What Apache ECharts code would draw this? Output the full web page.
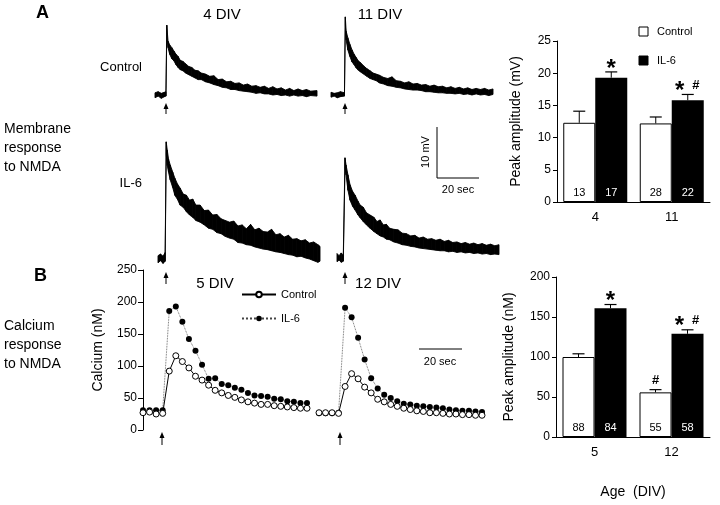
<!DOCTYPE html>
<html>
<head>
<meta charset="utf-8">
<script src="https://cdn.jsdelivr.net/npm/echarts@6/dist/echarts.min.js"></script>
<style>
  html, body { margin: 0; padding: 0; background: #fff; }
  #main { width: 720px; height: 505px; }
</style>
</head>
<body>
<div id="main"></div>
<script>
// ---- membrane traces (time in sec, lower / upper edge of the noisy trace in mV) ----
const ctl4T  = [0,1.5,3,4.5,5.2,5.6,6.2,7,8,9,10,11,12,13.3,14.5,16,17.5,19,20.5,22,24,26,28,30,32,34,36,38,40,42,44,46,48,50,52,54,56,58,60,62,64,66,68,70,72,74,77]
const ctl4Lo = [-0.5,-0.2,-0.6,-0.3,-0.2,11.3,8.6,7.4,6.6,6.2,5.5,5.0,4.6,4.4,4.0,3.7,3.4,3.1,2.8,2.8,2.4,2.2,1.9,1.7,1.4,1.3,1.0,1.0,0.8,0.7,0.6,0.5,0.3,0.4,0.2,0.2,0.0,0.1,-0.1,0.0,-0.2,0.0,-0.2,-0.1,-0.3,-0.1,-0.2]
const ctl4Hi = [0.4,0.6,0.3,0.5,0.6,12.7,9.8,9.1,8.6,8.0,7.4,7.0,6.3,6.1,5.7,5.2,5.0,4.5,4.4,4.0,3.8,3.4,3.5,2.8,2.9,2.4,2.5,2.1,2.2,1.8,2.0,1.6,1.7,1.4,1.6,1.2,1.5,1.1,1.3,0.9,1.2,0.8,1.1,0.8,1.0,0.7,0.8]

const ctl11T  = [0,1.5,3,4.5,6.4,6.8,7.2,8,9,10,11,12,13,14,15.5,17,18.6,20,21.5,23,25,27,29,31,33,35,37,39,41,43,45,47,49,51,53,55,57,59,61,63,65,67,69,71,73,75,77]
const ctl11Lo = [-0.4,-0.2,-0.5,-0.3,-0.2,13.0,10.0,8.2,7.0,6.0,5.5,4.9,4.5,4.2,3.8,3.4,3.0,2.8,2.6,2.2,2.0,1.7,1.6,1.4,1.3,1.1,1.0,0.9,0.9,0.8,0.6,0.6,0.5,0.4,0.4,0.3,0.3,0.2,0.3,0.1,0.2,0.0,0.2,0.0,0.1,-0.1,0.1]
const ctl11Hi = [0.5,0.3,0.4,0.6,0.4,14.2,11.6,10.4,9.2,8.2,7.4,6.8,6.2,5.9,5.3,4.8,4.4,4.0,3.8,3.6,3.2,3.0,3.3,2.6,2.5,2.2,2.4,2.0,2.1,1.8,1.9,1.6,1.8,1.5,1.6,1.3,1.5,1.2,1.4,1.1,1.3,1.0,1.2,1.0,1.2,0.9,1.1]

const il4T  = [0,1.2,2.4,3.4,3.9,4.4,5,5.8,7,8,9.3,10.5,12,13.5,15,16.5,18,20,22,24,26,28,30,32,34,36,38,40,42,44,46,48,50,52,54,56,58,60,62,64,66,68,70,72,74,76,77]
const il4Lo = [-0.7,-0.3,-0.8,-0.4,19.0,17.0,15.8,14.4,13.0,11.6,10.8,9.8,9.4,8.6,8.0,7.6,7.0,6.7,6.2,5.6,5.4,4.8,4.6,4.1,3.8,3.6,3.0,2.9,2.6,2.5,2.2,2.0,1.8,1.7,1.5,1.3,1.2,1.0,0.8,0.7,0.4,0.5,0.2,0.0,-0.3,-0.6,-0.4]
const il4Hi = [0.6,0.9,0.5,1.2,21.3,19.8,18.2,17.1,15.8,14.7,13.6,12.9,11.8,11.6,10.7,10.9,9.8,9.8,8.8,8.9,8.0,8.1,7.3,7.0,6.7,6.9,6.0,6.2,5.5,6.3,5.3,5.6,5.0,4.9,5.4,4.4,4.6,4.0,4.3,3.6,3.7,3.3,3.5,2.9,3.1,2.6,2.3]

const il11T  = [0,1,2,3,3.8,4.3,5.2,6.2,7.4,8.6,10,11,12.5,14,15.7,17.5,19,20.5,22,23.5,25,27,29,31,33,35,37,39,41,43,45,47,49,51,53,55,57,59,61,63,65,67,69,71,73,75,77]
const il11Lo = [-0.5,-0.2,-0.6,-0.4,16.5,15.3,12.5,10.7,9.6,8.9,8.0,7.5,6.8,6.2,5.6,5.0,4.6,4.2,4.0,3.6,3.5,3.1,2.9,2.6,2.5,2.3,2.2,2.0,1.9,1.8,1.7,1.6,1.5,1.5,1.3,1.4,1.2,1.3,1.1,1.2,1.0,1.1,0.9,1.0,0.8,0.9,0.8]
const il11Hi = [1.0,0.6,1.1,0.7,18.4,17.1,15.3,13.5,12.3,11.6,10.5,9.8,9.4,8.4,8.0,7.6,6.8,7.1,6.2,6.3,5.6,5.4,5.3,4.7,4.6,4.2,4.3,3.8,4.0,3.6,3.7,3.4,3.6,3.2,3.4,3.0,3.1,2.8,3.0,2.7,2.9,2.6,2.8,2.5,2.7,2.4,2.6]

// ---- calcium time courses (nM, one sample per ~3 sec) ----
const ca5Ctl  = [27,28,25,26,92,116,107,97,84,78,70,62,58,54,51,47,44,42,40,40,38,37,36,35,34,34]
const ca5Il6  = [31,31,31,31,186,193,169,142,124,102,80,81,72,70,66,63,58,54,53,52,49,48,45,44,42,42]
const ca12Ctl = [27,27,27,26,68,88,80,67,58,48,44,40,37,34,32,30,29,27,27,26,25,25,24,24,23,23]
const ca12Il6 = [26,26,26,27,191,176,144,110,81,65,55,50,45,41,40,38,37,36,35,34,32,31,30,30,29,28]

// ---- peak amplitude bars ----
const mvCats = ['4', '11']
const mvCtl = [12.3, 12.2]
const mvCtlErr = [1.8, 1.0]
const mvIl6 = [19.3, 15.8]
const mvIl6Err = [0.9, 0.9]
const mvCtlN = [13, 28]
const mvIl6N = [17, 22]
const mvCtlSig = ['', '']
const mvIl6Sig = ['*', '* #']

const nmCats = ['5', '12']
const nmCtl = [100, 55.8]
const nmCtlErr = [4, 3.4]
const nmIl6 = [161, 129]
const nmIl6Err = [4.6, 5]
const nmCtlN = [88, 55]
const nmIl6N = [84, 58]
const nmCtlSig = ['', '#']
const nmIl6Sig = ['*', '* #']

const FONT = '"Liberation Sans", Arial, sans-serif'
const chart = echarts.init(document.getElementById('main'))

// trace drawn as a black band between its lower and upper edge, one quad per step
function traceSeries(gi, t, lo, hi) {
    return {
        type: 'custom', xAxisIndex: gi, yAxisIndex: gi, silent: true,
        data: t.map((v, i) => [v, lo[i], hi[i]]),
        renderItem: (params, api) => {
            const i = params.dataIndex
            if (i >= t.length - 1) return null
            const a = api.coord([t[i], hi[i]])
            const b = api.coord([t[i + 1], hi[i + 1]])
            const c = api.coord([t[i + 1], lo[i + 1]])
            const d = api.coord([t[i], lo[i]])
            return {
                type: 'polygon',
                shape: { points: [a, b, c, d] },
                style: { fill: '#000', stroke: '#000', lineWidth: 0.9 }
            }
        }
    }
}

function caSeries(gi, name, vals) {
    const il6 = name === 'IL-6'
    return {
        type: 'line', name: name, xAxisIndex: gi, yAxisIndex: gi,
        data: vals.map((v, i) => [i, v]),
        symbol: 'circle', symbolSize: 6,
        itemStyle: il6 ? { color: '#000' } : { color: '#fff', borderColor: '#000', borderWidth: 1 },
        lineStyle: il6 ? { color: '#444', width: 0.8, type: 'dotted' } : { color: '#000', width: 1 },
        z: il6 ? 3 : 4
    }
}

function barSeries(gi, name, vals, ns) {
    const il6 = name === 'IL-6'
    return {
        type: 'bar', name: name + ' ', xAxisIndex: gi, yAxisIndex: gi,
        data: vals, barWidth: 32, barGap: 0,
        itemStyle: il6 ? { color: '#000' } : { color: '#fff', borderColor: '#000', borderWidth: 1 },
        label: {
            show: true, position: 'insideBottom', distance: 4,
            fontFamily: FONT, fontSize: 11, color: il6 ? '#fff' : '#000',
            formatter: p => ns[p.dataIndex]
        }
    }
}

// error bar (upward only) + significance marks
function errSeries(gi, vals, errs, marks, off) {
    return {
        type: 'custom', xAxisIndex: gi, yAxisIndex: gi, silent: true, z: 5,
        data: vals.map((v, i) => [i, v, errs[i]]),
        renderItem: (params, api) => {
            const i = api.value(0)
            const p0 = api.coord([i, api.value(1)])
            const p1 = api.coord([i, api.value(1) + api.value(2)])
            const x = p0[0] + off
            const kids = [
                { type: 'line', shape: { x1: x, y1: p0[1], x2: x, y2: p1[1] }, style: { stroke: '#000', lineWidth: 1 } },
                { type: 'line', shape: { x1: x - 6, y1: p1[1], x2: x + 6, y2: p1[1] }, style: { stroke: '#000', lineWidth: 1.2 } }
            ]
            const m = marks[params.dataIndex]
            const star = m.indexOf('*') >= 0, hash = m.indexOf('#') >= 0
            const sx = star && hash ? x - 8 : x
            const hx = star && hash ? x + 8 : x
            if (star) kids.push({ type: 'text', x: sx, y: p1[1] - 3,
                style: { text: '*', font: 'bold 24px ' + FONT, fill: '#000', align: 'center', verticalAlign: 'middle' } })
            if (hash) kids.push({ type: 'text', x: hx, y: p1[1] - 9,
                style: { text: '#', font: 'bold 13px ' + FONT, fill: '#000', align: 'center', verticalAlign: 'middle' } })
            return { type: 'group', children: kids }
        }
    }
}

function arrow(x, y1, y2) {
    return {
        type: 'group', silent: true, children: [
            { type: 'line', shape: { x1: x, y1: y1 + 3, x2: x, y2: y2 }, style: { stroke: '#000', lineWidth: 1 } },
            { type: 'polygon', shape: { points: [[x, y1], [x - 2.5, y1 + 6], [x + 2.5, y1 + 6]] }, style: { fill: '#000' } }
        ]
    }
}

function txt(x, y, s, size, opts) {
    return Object.assign({ type: 'text', x: x, y: y, silent: true,
        style: Object.assign({ text: s, font: size + 'px ' + FONT, fill: '#000', align: 'left', verticalAlign: 'middle' }, opts || {}) })
}

const hidden = { show: false }
const traceX = { type: 'value', min: 0, max: 77, show: false }
const ctlY = { type: 'value', min: -2, max: 15, show: false }
const il6Y = { type: 'value', min: -3, max: 22, show: false }
const caX = { type: 'value', min: 0, max: 25, show: false }

const tickLabel = { fontFamily: FONT, fontSize: 12, color: '#000', margin: 6 }
const axisLn = { show: true, lineStyle: { color: '#000', width: 1 } }

const option = {
    animation: false,
    backgroundColor: '#fff',
    grid: [
        { left: 155, top: 12.5, width: 162, height: 93.5 },   // 0 control 4 DIV
        { left: 331, top: 12.5, width: 162, height: 93.5 },   // 1 control 11 DIV
        { left: 158, top: 138, width: 162, height: 137.5 },   // 2 IL-6 4 DIV
        { left: 337, top: 138, width: 162, height: 137.5 },   // 3 IL-6 11 DIV
        { left: 143, top: 270, width: 164, height: 160 },     // 4 calcium 5 DIV
        { left: 319, top: 270, width: 163, height: 160 },     // 5 calcium 12 DIV
        { left: 557, top: 41, width: 153, height: 161 },      // 6 mV bars
        { left: 556, top: 277, width: 154, height: 160 }      // 7 nM bars
    ],
    xAxis: [
        Object.assign({ gridIndex: 0 }, traceX),
        Object.assign({ gridIndex: 1 }, traceX),
        Object.assign({ gridIndex: 2 }, traceX),
        Object.assign({ gridIndex: 3 }, traceX),
        Object.assign({ gridIndex: 4 }, caX),
        Object.assign({ gridIndex: 5 }, caX),
        { gridIndex: 6, type: 'category', data: mvCats, axisLine: axisLn, axisTick: hidden,
          axisLabel: Object.assign({}, tickLabel, { fontSize: 13, margin: 9 }) },
        { gridIndex: 7, type: 'category', data: nmCats, axisLine: axisLn, axisTick: hidden,
          axisLabel: Object.assign({}, tickLabel, { fontSize: 13, margin: 9 }),
          name: 'Age  (DIV)', nameLocation: 'middle', nameGap: 48,
          nameTextStyle: { fontFamily: FONT, fontSize: 14, color: '#000' } }
    ],
    yAxis: [
        Object.assign({ gridIndex: 0 }, ctlY),
        Object.assign({ gridIndex: 1 }, ctlY),
        Object.assign({ gridIndex: 2 }, il6Y),
        Object.assign({ gridIndex: 3 }, il6Y),
        { gridIndex: 4, type: 'value', min: 0, max: 250, interval: 50,
          axisLine: axisLn, axisTick: { show: true, length: 5, lineStyle: { color: '#000' } },
          axisLabel: tickLabel, splitLine: hidden,
          name: 'Calcium (nM)', nameLocation: 'middle', nameGap: 38,
          nameTextStyle: { fontFamily: FONT, fontSize: 14, color: '#000' } },
        { gridIndex: 5, type: 'value', min: 0, max: 250, show: false },
        { gridIndex: 6, type: 'value', min: 0, max: 25, interval: 5,
          axisLine: axisLn, axisTick: { show: true, length: 4, lineStyle: { color: '#000' } },
          axisLabel: tickLabel, splitLine: hidden,
          name: 'Peak amplitude (mV)', nameLocation: 'middle', nameGap: 34,
          nameTextStyle: { fontFamily: FONT, fontSize: 14, color: '#000' } },
        { gridIndex: 7, type: 'value', min: 0, max: 200, interval: 50,
          axisLine: axisLn, axisTick: { show: true, length: 4, lineStyle: { color: '#000' } },
          axisLabel: tickLabel, splitLine: hidden,
          name: 'Peak amplitude (nM)', nameLocation: 'middle', nameGap: 40,
          nameTextStyle: { fontFamily: FONT, fontSize: 14, color: '#000' } }
    ],
    legend: {
        data: ['Control', 'IL-6'], orient: 'vertical', left: 236, top: 284,
        itemWidth: 34, itemHeight: 7, itemGap: 13, selectedMode: false,
        textStyle: { fontFamily: FONT, fontSize: 11, color: '#000' }
    },
    series: [
        caSeries(4, 'IL-6', ca5Il6),
        caSeries(4, 'Control', ca5Ctl),
        caSeries(5, 'IL-6', ca12Il6),
        caSeries(5, 'Control', ca12Ctl),
        traceSeries(0, ctl4T, ctl4Lo, ctl4Hi),
        traceSeries(1, ctl11T, ctl11Lo, ctl11Hi),
        traceSeries(2, il4T, il4Lo, il4Hi),
        traceSeries(3, il11T, il11Lo, il11Hi),
        barSeries(6, 'Control', mvCtl, mvCtlN),
        barSeries(6, 'IL-6', mvIl6, mvIl6N),
        errSeries(6, mvCtl, mvCtlErr, mvCtlSig, -16),
        errSeries(6, mvIl6, mvIl6Err, mvIl6Sig, 16),
        barSeries(7, 'Control', nmCtl, nmCtlN),
        barSeries(7, 'IL-6', nmIl6, nmIl6N),
        errSeries(7, nmCtl, nmCtlErr, nmCtlSig, -16),
        errSeries(7, nmIl6, nmIl6Err, nmIl6Sig, 16)
    ],
    graphic: [
        txt(36, 13, 'A', 18, { font: 'bold 18px ' + FONT }),
        txt(34, 276, 'B', 18, { font: 'bold 18px ' + FONT }),
        txt(222, 15, '4 DIV', 15, { align: 'center' }),
        txt(380, 15, '11 DIV', 15, { align: 'center' }),
        txt(215, 284, '5 DIV', 15, { align: 'center' }),
        txt(378, 284, '12 DIV', 15, { align: 'center' }),
        txt(142, 67, 'Control', 13, { align: 'right' }),
        txt(142, 183, 'IL-6', 13, { align: 'right' }),
        txt(4, 148, 'Membrane\nresponse\nto NMDA', 14, { lineHeight: 19 }),
        txt(4, 345, 'Calcium\nresponse\nto NMDA', 14, { lineHeight: 19 }),
        // membrane scale bar
        { type: 'polyline', silent: true, shape: { points: [[437, 127], [437, 178], [479, 178]] }, style: { stroke: '#000', lineWidth: 1, fill: null } },
        Object.assign(txt(426, 152, '10 mV', 11, { align: 'center' }), { rotation: Math.PI / 2 }),
        txt(458, 190, '20 sec', 11, { align: 'center' }),
        // calcium scale bar
        { type: 'line', silent: true, shape: { x1: 419, y1: 349, x2: 462, y2: 349 }, style: { stroke: '#000', lineWidth: 1 } },
        txt(440, 362, '20 sec', 11, { align: 'center' }),
        // stimulus arrows
        arrow(166, 103, 114), arrow(345, 103, 114),
        arrow(166, 272, 284), arrow(345, 272, 284),
        arrow(162, 432, 445), arrow(340, 432, 445),
        // bar legend
        { type: 'rect', silent: true, shape: { x: 639, y: 27, width: 9, height: 9 }, style: { fill: '#fff', stroke: '#000', lineWidth: 1 } },
        txt(657, 32, 'Control', 11),
        { type: 'rect', silent: true, shape: { x: 639, y: 56, width: 9, height: 9 }, style: { fill: '#000', stroke: '#000', lineWidth: 1 } },
        txt(657, 61, 'IL-6', 11)
    ]
}
chart.setOption(option)
</script>
</body>
</html>
